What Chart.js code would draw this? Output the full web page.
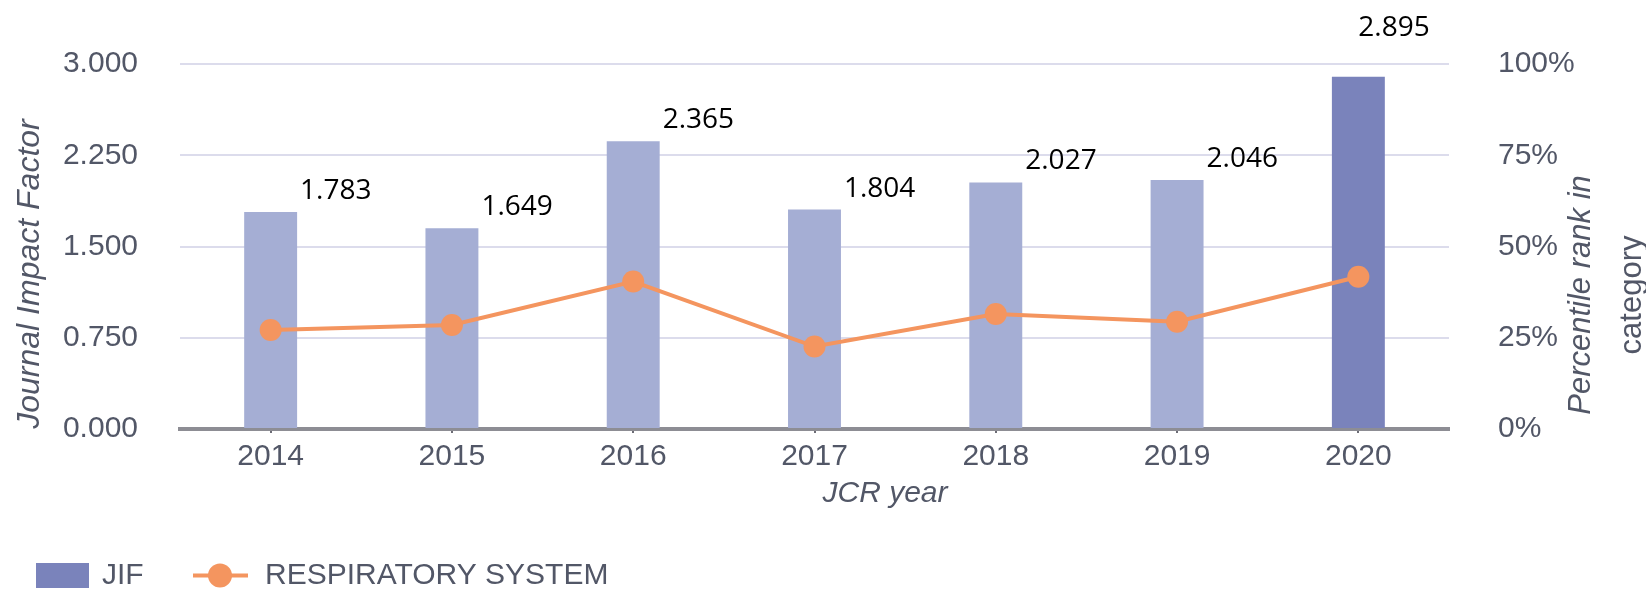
<!DOCTYPE html>
<html>
<head>
<meta charset="utf-8">
<title>Journal Impact Factor</title>
<script src="https://cdn.jsdelivr.net/npm/chart.js@4.4.1/dist/chart.umd.min.js"></script>
<style>
  html, body { margin: 0; padding: 0; background: #fff; }
  #wrap { width: 1646px; height: 591px; position: relative; }
</style>
</head>
<body>
<div id="wrap"><canvas id="chart"></canvas></div>
<script>
const years = ['2014', '2015', '2016', '2017', '2018', '2019', '2020'];
const jif = [1.783, 1.649, 2.365, 1.804, 2.027, 2.046, 2.895];
const rankPct = [27.1, 28.5, 40.4, 22.6, 31.5, 29.4, 41.7];
const jifTicks = ['0.000', '0.750', '1.500', '2.250', '3.000'];
const rankTicks = ['0%', '25%', '50%', '75%', '100%'];
const seriesNames = ['JIF', 'RESPIRATORY SYSTEM'];

const grey = '#525767';
const sans = '"Liberation Sans", Arial, Helvetica, sans-serif';
const barLight = '#a5aed4';
const barDark = '#7a83bb';
const orange = '#f4955f';

// value labels, axis titles and the legend are painted by hand
const decorations = {
  id: 'decorations',
  afterDatasetsDraw(chart) {
    const ctx = chart.ctx;
    const bars = chart.getDatasetMeta(1).data;
    ctx.save();
    ctx.fillStyle = '#000';
    ctx.font = '28px "Open Sans", sans-serif';
    ctx.textAlign = 'left';
    ctx.textBaseline = 'alphabetic';
    bars.forEach((bar, i) => {
      const last = i === bars.length - 1;
      const x = last ? bar.x : bar.x + bar.width / 2 + 3;
      const y = last ? bar.y - 41 : bar.y - 13;
      ctx.fillText(jif[i].toFixed(3), x, y);
    });
    ctx.restore();
  },
  afterDraw(chart) {
    const ctx = chart.ctx;
    const area = chart.chartArea;
    ctx.save();
    ctx.fillStyle = grey;
    ctx.textAlign = 'center';
    ctx.textBaseline = 'alphabetic';

    ctx.font = `italic 32px ${sans}`;
    ctx.save();
    ctx.translate(39, 274);
    ctx.rotate(-Math.PI / 2);
    ctx.fillText('Journal Impact Factor', 0, 0);
    ctx.restore();

    ctx.font = `italic 31px ${sans}`;
    ctx.save();
    ctx.translate(1590, 295);
    ctx.rotate(-Math.PI / 2);
    ctx.fillText('Percentile rank in', 0, 0);
    ctx.restore();

    ctx.font = `31px ${sans}`;
    ctx.save();
    ctx.translate(1641, 295);
    ctx.rotate(-Math.PI / 2);
    ctx.fillText('category', 0, 0);
    ctx.restore();

    ctx.font = `italic 30px ${sans}`;
    ctx.fillText('JCR year', 885, area.bottom + 73);

    // legend
    const ly = 575.5;
    ctx.textAlign = 'left';
    ctx.textBaseline = 'middle';
    ctx.font = `30px ${sans}`;
    ctx.fillStyle = barDark;
    ctx.fillRect(36, 563, 53, 25);
    ctx.fillStyle = grey;
    ctx.fillText(seriesNames[0], 102, ly);
    ctx.strokeStyle = orange;
    ctx.lineWidth = 4;
    ctx.beginPath();
    ctx.moveTo(193, ly);
    ctx.lineTo(248, ly);
    ctx.stroke();
    ctx.fillStyle = orange;
    ctx.beginPath();
    ctx.arc(220, ly, 12, 0, Math.PI * 2);
    ctx.fill();
    ctx.fillStyle = grey;
    ctx.fillText(seriesNames[1], 265, ly);
    ctx.restore();
  },
};

new Chart(document.getElementById('chart'), {
  type: 'bar',
  data: {
    labels: years,
    datasets: [
      {
        type: 'line',
        label: seriesNames[1],
        data: rankPct,
        yAxisID: 'y1',
        order: 0,
        borderColor: orange,
        backgroundColor: orange,
        borderWidth: 4,
        pointRadius: 11,
        pointBorderWidth: 0,
        pointBackgroundColor: orange,
        tension: 0,
      },
      {
        label: seriesNames[0],
        data: jif,
        yAxisID: 'y',
        order: 1,
        backgroundColor: (c) => (c.dataIndex === years.length - 1 ? barDark : barLight),
        barPercentage: 0.292,
        categoryPercentage: 1,
      },
    ],
  },
  options: {
    responsive: true,
    maintainAspectRatio: false,
    animation: false,
    layout: { padding: { top: 64, left: 0, right: 0, bottom: 0 } },
    plugins: { legend: { display: false }, tooltip: { enabled: false } },
    scales: {
      x: {
        offset: true,
        grid: { display: true, drawOnChartArea: false, offset: false, color: '#6d6d76', lineWidth: 2, tickLength: 4 },
        border: { display: true, color: '#8d8d94', width: 4 },
        ticks: { color: grey, font: { family: sans, size: 30 }, padding: 6 },
        afterFit: (s) => { s.height = 162; },
      },
      y: {
        position: 'left',
        min: 0,
        max: 3,
        ticks: {
          stepSize: 0.75,
          padding: 42,
          color: grey,
          font: { family: sans, size: 30 },
          callback: (v, i) => jifTicks[i],
        },
        grid: { color: '#dcdcec', lineWidth: 2, drawTicks: false },
        border: { display: false },
        afterFit: (s) => { s.width = 180; },
      },
      y1: {
        position: 'right',
        min: 0,
        max: 100,
        ticks: {
          stepSize: 25,
          padding: 41,
          color: grey,
          font: { family: sans, size: 30 },
          callback: (v, i) => rankTicks[i],
        },
        grid: { display: false },
        border: { display: false },
        afterFit: (s) => { s.width = 197; },
      },
    },
  },
  plugins: [decorations],
});
</script>
</body>
</html>
